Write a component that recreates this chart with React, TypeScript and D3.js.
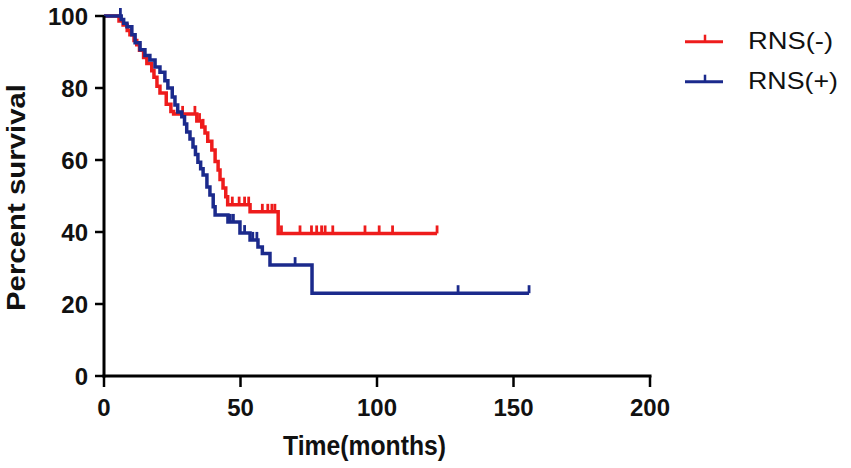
import React, { useEffect } from "react";
import * as d3 from "d3";

// Kaplan-Meier steps: [months, percent surviving]
const rnsNegSteps: [number, number][] = [
  [0, 100], [5.5, 98.6], [7, 97.5], [8.5, 96], [9.5, 94.8], [11, 93.2], [12, 92],
  [13, 90.5], [14.5, 88.5], [15.7, 86.8], [17.5, 84.8], [18.3, 83], [19.4, 80.5],
  [20.5, 78.6], [22.8, 75.5], [24.5, 73.5], [25.5, 72.8], [34, 70.8], [35.8, 69.2],
  [37, 67.5], [38, 65.2], [39.5, 62.8], [40.7, 59.6], [41.8, 57.2], [42.5, 54.6],
  [43.6, 52.2], [44.6, 49.8], [45.3, 47.6], [53.5, 45.6], [63.8, 39.6], [122, 39.6],
];
const rnsNegCensored = [
  28.8, 33.3, 35, 36.3, 47, 49.5, 51.5, 53, 58, 60, 61.5, 62.6, 65, 71.8, 76,
  77.9, 79.7, 81, 83.8, 95.6, 100.8, 105.7, 122,
];

const rnsPosSteps: [number, number][] = [
  [0, 100], [6.3, 99], [7.2, 98], [8.4, 97], [10.2, 94.8], [11.4, 92.6], [13.2, 90.6],
  [15, 89], [16.8, 87.8], [18.7, 85.8], [20.5, 84.4], [22.3, 82], [23.4, 80], [25, 77.5],
  [26, 75.3], [27, 73.3], [28.5, 72], [29.5, 70], [30.3, 67.8], [31.5, 65.8], [32.6, 63.6],
  [33.5, 61.5], [34.4, 59.4], [35.4, 57.6], [36.3, 55.8], [37.7, 52.5], [38.8, 50.3],
  [40, 47], [40.7, 44.7], [45.4, 42.8], [49.8, 39.7], [53.5, 37.8], [56.4, 35.8], [58, 34],
  [60.8, 30.8], [76.2, 23], [155.7, 23],
];
const rnsPosCensored = [6, 46.3, 47.4, 51.5, 54.5, 56, 70, 129.7, 155.7];

const xTicks = [0, 50, 100, 150, 200];
const yTicks = [0, 20, 40, 60, 80, 100];

const series = [
  { name: "RNS(-)", color: "#ee1c1c", steps: rnsNegSteps, censored: rnsNegCensored, textLen: 85 },
  { name: "RNS(+)", color: "#1b2a8c", steps: rnsPosSteps, censored: rnsPosCensored, textLen: 90 },
];

const W = 851;
const H = 468;
const font = "'Liberation Sans', Arial, sans-serif";

// value of the step function at time t
function survivalAt(steps: [number, number][], t: number) {
  let v = steps[0][1];
  for (const [time, s] of steps) {
    if (time <= t) v = s;
    else break;
  }
  return v;
}

export default function App() {
  useEffect(() => {
    document.body.style.margin = "0";
  }, []);

  const x = d3.scaleLinear().domain([0, 200]).range([104, 650]);
  const y = d3.scaleLinear().domain([0, 100]).range([376, 16]);

  const line = d3
    .line<[number, number]>()
    .x((d) => x(d[0]))
    .y((d) => y(d[1]))
    .curve(d3.curveStepAfter);

  return (
    <svg width={W} height={H} style={{ display: "block", background: "#fff" }}>
      {/* curves */}
      {series.map((s) => (
        <g key={s.name}>
          <path d={line(s.steps) || ""} fill="none" stroke={s.color} strokeWidth={3.5} />
          {s.censored.map((t, i) => (
            <line
              key={i}
              x1={x(t)}
              x2={x(t)}
              y1={y(survivalAt(s.steps, t))}
              y2={y(survivalAt(s.steps, t)) - 8}
              stroke={s.color}
              strokeWidth={2.8}
            />
          ))}
        </g>
      ))}

      {/* y axis */}
      <line x1={104} x2={104} y1={y(0) + 1.5} y2={y(100)} stroke="#000" strokeWidth={3} />
      {yTicks.map((t) => (
        <g key={t}>
          <line x1={95} x2={104} y1={y(t)} y2={y(t)} stroke="#000" strokeWidth={2.5} />
          <text
            x={88}
            y={y(t) + 8.5}
            textAnchor="end"
            fontFamily={font}
            fontWeight="bold"
            fontSize={24}
            fill="#111"
          >
            {t}
          </text>
        </g>
      ))}

      {/* x axis */}
      <line x1={x(0) - 1.5} x2={x(200) + 1.5} y1={376} y2={376} stroke="#000" strokeWidth={3} />
      {xTicks.map((t) => (
        <g key={t}>
          <line x1={x(t)} x2={x(t)} y1={376} y2={387} stroke="#000" strokeWidth={2.5} />
          <text
            x={x(t)}
            y={416}
            textAnchor="middle"
            fontFamily={font}
            fontWeight="bold"
            fontSize={24}
            fill="#111"
          >
            {t}
          </text>
        </g>
      ))}

      {/* axis titles */}
      <text
        x={283}
        y={455}
        fontFamily={font}
        fontWeight="bold"
        fontSize={28}
        textLength={163}
        lengthAdjust="spacingAndGlyphs"
        fill="#111"
      >
        Time(months)
      </text>
      <text
        transform="translate(25,311) rotate(-90)"
        fontFamily={font}
        fontWeight="bold"
        fontSize={25}
        textLength={227}
        lengthAdjust="spacingAndGlyphs"
        fill="#111"
      >
        Percent survival
      </text>

      {/* legend */}
      {series.map((s, i) => {
        const ly = 41.7 + i * 40;
        return (
          <g key={s.name}>
            <line x1={685} x2={723} y1={ly} y2={ly} stroke={s.color} strokeWidth={3} />
            <line x1={705} x2={705} y1={ly} y2={ly - 7} stroke={s.color} strokeWidth={2.5} />
            <text
              x={748}
              y={ly + 7.5}
              fontFamily={font}
              fontSize={24}
              textLength={s.textLen}
              lengthAdjust="spacingAndGlyphs"
              fill="#111"
            >
              {s.name}
            </text>
          </g>
        );
      })}
    </svg>
  );
}
